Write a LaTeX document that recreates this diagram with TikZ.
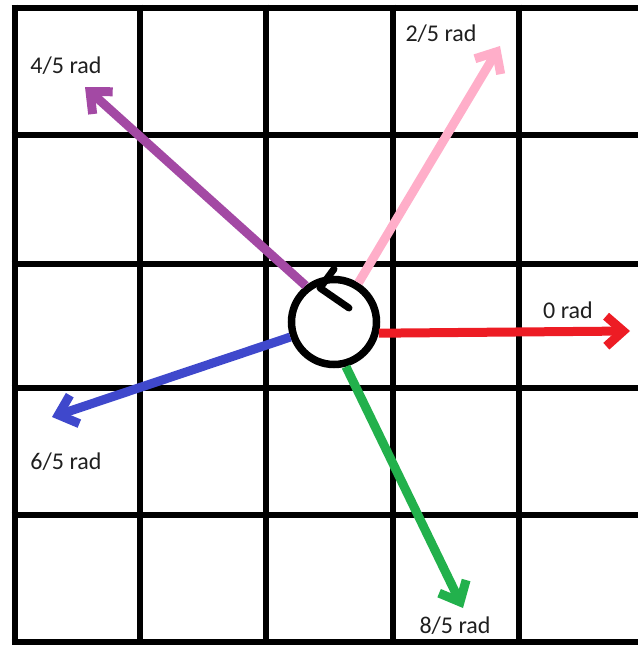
\documentclass[tikz,border=0pt]{standalone}
\usepackage{fontspec}
\setmainfont{Carlito}
\usetikzlibrary{arrows.meta}

\definecolor{paintrot}{RGB}{237,28,36}
\definecolor{paintrosa}{RGB}{255,174,201}
\definecolor{paintlila}{RGB}{163,73,164}
\definecolor{paintblau}{RGB}{63,72,204}
\definecolor{paintgruen}{RGB}{34,177,76}

\begin{document}
\begin{tikzpicture}[x=1pt,y=-1pt,
  gitter/.style={line width=6pt},
  pfeil/.style={line width=9pt,-{Straight Barb[length=17pt,width=30pt]}},
  beschriftung/.style={text=black!88,font=\fontsize{24}{28}\selectfont,inner sep=0pt}]
\useasboundingbox (0,0) rectangle (638,645);

% Gitter
\foreach \x in {14.5,140,266,393,519} \draw[gitter] (\x,4.5) -- (\x,645);
\foreach \y in {7.5,135,264,388,515,642} \draw[gitter] (11.5,\y) -- (638,\y);

% Kreis mit Drehsinn
\node[circle,draw,line width=7.5pt,minimum size=85pt,inner sep=0pt] (hub) at (334,322) {};
\draw[line width=7pt,line cap=round,line join=round] ([shift={(0,-53)}]hub.center) -- ++(-14,19) -- ++(29,20);

% Zielpunkte
\coordinate (t0) at (630,331);
\coordinate (t2) at (500,46);
\coordinate (t4) at (85,87);
\coordinate (t6) at (52,417);
\coordinate (t8) at (463,608);

% Pfeile
\draw[pfeil,paintrot] (hub.-14) -- (t0);   % 0 rad
\draw[pfeil,paintrosa] (hub.58) -- (t2);   % 2/5 rad
\draw[pfeil,paintlila] (hub.128) -- (t4);  % 4/5 rad
\draw[pfeil,paintblau] (hub.199) -- (t6);  % 6/5 rad
\draw[pfeil,paintgruen] (hub.-75) -- (t8); % 8/5 rad

% Beschriftungen
\node[beschriftung] (l0) at (568,310) {0 rad};
\node[beschriftung] (l2) at (441,34) {2/5 rad};
\node[beschriftung] (l4) at (66,66) {4/5 rad};
\node[beschriftung] (l6) at (66,462) {6/5 rad};
\node[beschriftung] (l8) at (455,626) {8/5 rad};

\end{tikzpicture}
\end{document}
